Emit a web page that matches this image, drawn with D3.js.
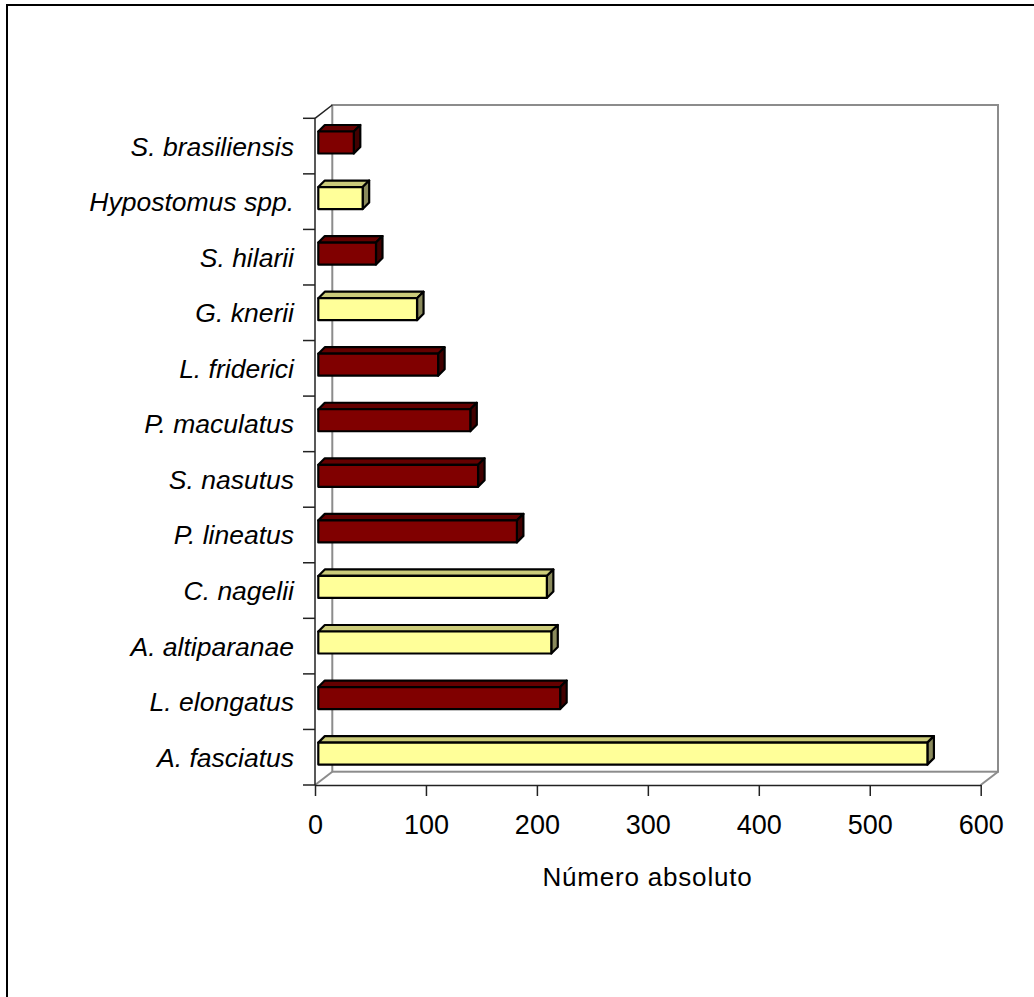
<!DOCTYPE html>
<html>
<head>
<meta charset="utf-8">
<script src="https://cdn.jsdelivr.net/npm/d3@7"></script>
<style>
  html, body { margin: 0; padding: 0; background: #fff; }
  svg { display: block; }
  text { font-family: "Liberation Sans", Arial, sans-serif; fill: #000; }
</style>
</head>
<body>
<svg id="chart" width="1034" height="997"></svg>
<script>
// Species, listed top to bottom
const categories = [
  "S. brasiliensis", "Hypostomus spp.", "S. hilarii", "G. knerii",
  "L. friderici", "P. maculatus", "S. nasutus", "P. lineatus",
  "C. nagelii", "A. altiparanae", "L. elongatus", "A. fasciatus"
];
// Absolute number of individuals
const values = [32, 40, 52, 89, 108, 137, 144, 179, 206, 210, 218, 549];
// Series group of each species (A = dark red, B = pale yellow)
const groups = ["A", "B", "A", "B", "A", "A", "A", "A", "B", "B", "A", "B"];
const xTicks = [0, 100, 200, 300, 400, 500, 600];
const xTitle = "Número absoluto";

const palette = {
  A: { front: "#800000", top: "#640000", side: "#420000" },
  B: { front: "#FFFF99", top: "#CBCB7A", side: "#8A8A5C" }
};

const svg = d3.select("#chart");

// outer chart frame
svg.append("path")
  .attr("d", "M7,997 L7,5 L1034,5")
  .attr("fill", "none").attr("stroke", "#000").attr("stroke-width", 2);

// plot geometry (front plane) and 3-D depth offsets
const plotLeft = 315, plotRight = 980.7, plotTop = 118.3, plotBottom = 785;
const wallDx = 17.3, wallDy = -13.3;      // depth of the back wall
const barOffX = 3.3, barOffY = -3.6;      // bar front face offset into depth
const barDx = 6.5, barDy = -6.5;          // bar depth
const barH = 22;

const x = d3.scaleLinear().domain([0, 600]).range([plotLeft, plotRight]);
const y = d3.scaleBand().domain(categories).range([plotTop, plotBottom]).padding(0);

const wallColor = "#8c8c8c";
const walls = svg.append("g").attr("fill", "none");

// back wall
walls.append("rect")
  .attr("x", plotLeft + wallDx).attr("y", plotTop + wallDy)
  .attr("width", plotRight - plotLeft).attr("height", plotBottom - plotTop)
  .attr("stroke", wallColor).attr("stroke-width", 2);
// floor side edges
walls.append("line")
  .attr("x1", plotLeft).attr("y1", plotBottom)
  .attr("x2", plotLeft + wallDx).attr("y2", plotBottom + wallDy)
  .attr("stroke", wallColor).attr("stroke-width", 2);
walls.append("line")
  .attr("x1", plotRight).attr("y1", plotBottom)
  .attr("x2", plotRight + wallDx).attr("y2", plotBottom + wallDy)
  .attr("stroke", wallColor).attr("stroke-width", 2);
// top edge of the left wall
walls.append("line")
  .attr("x1", plotLeft).attr("y1", plotTop)
  .attr("x2", plotLeft + wallDx).attr("y2", plotTop + wallDy)
  .attr("stroke", "#222").attr("stroke-width", 1.5);

// bars
const rows = categories.map((c, i) => ({ cat: c, value: values[i], group: groups[i] }));
const bars = svg.append("g")
  .attr("stroke", "#000").attr("stroke-width", 2.2).attr("stroke-linejoin", "round");

rows.forEach(d => {
  const x0 = x(0) + barOffX;
  const x1 = x(d.value) + barOffX;
  const yc = y(d.cat) + y.bandwidth() / 2 + barOffY;
  const yt = yc - barH / 2, yb = yc + barH / 2;
  const col = palette[d.group];
  const g = bars.append("g");
  g.append("polygon")
    .attr("points", [[x0, yt], [x1, yt], [x1 + barDx, yt + barDy], [x0 + barDx, yt + barDy]].join(" "))
    .attr("fill", col.top);
  g.append("polygon")
    .attr("points", [[x1, yt], [x1 + barDx, yt + barDy], [x1 + barDx, yb + barDy], [x1, yb]].join(" "))
    .attr("fill", col.side);
  g.append("rect")
    .attr("x", x0).attr("y", yt).attr("width", x1 - x0).attr("height", barH)
    .attr("fill", col.front);
});

// category axis (left) with ticks on band boundaries
const axisColor = "#222";
svg.append("line")
  .attr("x1", plotLeft).attr("y1", plotTop).attr("x2", plotLeft).attr("y2", plotBottom)
  .attr("stroke", axisColor).attr("stroke-width", 1.5);
const boundaries = categories.map(c => y(c)).concat([plotBottom]);
svg.append("g").selectAll("line").data(boundaries).join("line")
  .attr("x1", plotLeft - 12).attr("x2", plotLeft)
  .attr("y1", d => d).attr("y2", d => d)
  .attr("stroke", axisColor).attr("stroke-width", 1.5);
svg.append("g").selectAll("text").data(categories).join("text")
  .attr("x", 294)
  .attr("y", d => y(d) + y.bandwidth() / 2 + 9.5)
  .attr("text-anchor", "end")
  .attr("font-size", 26.5)
  .attr("font-style", "italic")
  .text(d => d);

// value axis (bottom)
const xAxis = d3.axisBottom(x).tickValues(xTicks).tickSize(11).tickSizeOuter(0).tickPadding(10);
const gx = svg.append("g").attr("transform", `translate(0,${plotBottom})`).call(xAxis);
gx.select(".domain").attr("stroke", axisColor).attr("stroke-width", 1.5);
gx.selectAll(".tick line").attr("stroke", axisColor).attr("stroke-width", 1.5);
gx.selectAll(".tick text")
  .attr("font-size", 27)
  .attr("font-family", "'Liberation Sans', Arial, sans-serif")
  .attr("fill", "#000")
  .attr("dy", null)
  .attr("y", 49);

// axis title
svg.append("text")
  .attr("x", 647.5).attr("y", 886)
  .attr("text-anchor", "middle")
  .attr("font-size", 26)
  .attr("letter-spacing", 0.8)
  .text(xTitle);
</script>
</body>
</html>
